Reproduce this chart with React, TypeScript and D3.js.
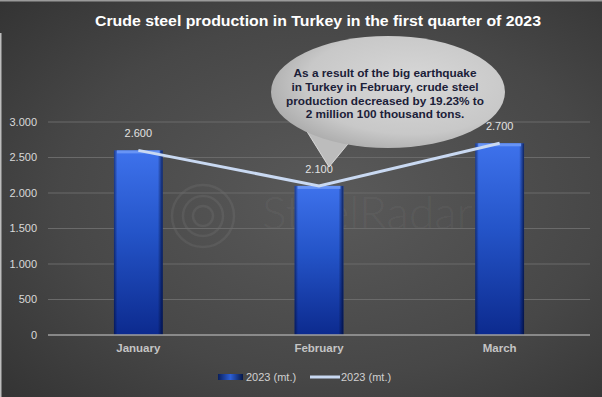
import * as d3 from 'd3';

const months = ['January', 'February', 'March'];
const production = [2600, 2100, 2700];
const yTicks = [0, 500, 1000, 1500, 2000, 2500, 3000];
const legendLabels = ['2023 (mt.)', '2023 (mt.)'];
const title = 'Crude steel production in Turkey in the first quarter of 2023';
const noteLines = [
  'As a result of the big earthquake',
  'in Turkey in February, crude steel',
  'production decreased by 19.23% to',
  '2 million 100 thousand tons.',
];

const W = 602;
const H = 397;
const plot = { left: 48, right: 590, top: 122, bottom: 335 };

const fmt = d3
  .formatLocale({ decimal: ',', thousands: '.', grouping: [3], currency: ['', ''] })
  .format(',');

export default function App() {
  const x = d3.scaleBand<string>().domain(months).range([plot.left, plot.right]).paddingInner(0.73).paddingOuter(0.365);
  const y = d3.scaleLinear().domain([0, 3000]).range([plot.bottom, plot.top]);
  const cx = (m: string) => (x(m) ?? 0) + x.bandwidth() / 2;

  const line = d3
    .line<number>()
    .x((_, i) => cx(months[i]))
    .y((d) => y(d));

  const font = 'Liberation Sans, Arial, sans-serif';

  return (
    <svg width={W} height={H} style={{ position: 'absolute', left: 0, top: 0, display: 'block' }} fontFamily={font}>
      <defs>
        <radialGradient id="bg" cx="0.55" cy="0.5" r="0.75">
          <stop offset="0" stopColor="#5a5a5a" />
          <stop offset="0.6" stopColor="#474747" />
          <stop offset="1" stopColor="#333333" />
        </radialGradient>
        <linearGradient id="barV" x1="0" x2="0" y1="0" y2="1">
          <stop offset="0" stopColor="#3e72ec" />
          <stop offset="0.45" stopColor="#2454c8" />
          <stop offset="1" stopColor="#0c2a8e" />
        </linearGradient>
        <linearGradient id="barH" x1="0" x2="1" y1="0" y2="0">
          <stop offset="0" stopColor="#000a30" stopOpacity="0.55" />
          <stop offset="0.07" stopColor="#000a30" stopOpacity="0" />
          <stop offset="0.9" stopColor="#000a30" stopOpacity="0" />
          <stop offset="1" stopColor="#000a30" stopOpacity="0.75" />
        </linearGradient>
        <linearGradient id="legBar" x1="0" x2="1" y1="0" y2="0">
          <stop offset="0" stopColor="#0a1f5c" />
          <stop offset="0.5" stopColor="#2c5fd6" />
          <stop offset="1" stopColor="#071847" />
        </linearGradient>
        <radialGradient id="bubble" cx="0.6" cy="0.42" r="0.65">
          <stop offset="0" stopColor="#d8d8d8" />
          <stop offset="0.7" stopColor="#c8c8c8" />
          <stop offset="1" stopColor="#aaaaaa" />
        </radialGradient>
      </defs>

      <rect x={0} y={0} width={W} height={H} fill="url(#bg)" />
      <rect x={0} y={0} width={W} height={1.5} fill="#9a9a9a" />
      <rect x={0} y={33} width={1.5} height={H - 33} fill="#bdbdbd" />

      <text x={318} y={26} textAnchor="middle" fill="#ffffff" fontWeight="bold" fontSize={15.5} textLength={446} lengthAdjust="spacingAndGlyphs">
        {title}
      </text>

      {/* watermark */}
      <g fill="none" stroke="#ffffff" strokeOpacity={0.06} strokeWidth={2.5}>
        {[10, 20, 31].map((r) => (
          <circle key={r} cx={203} cy={216} r={r} />
        ))}
      </g>
      <text x={262} y={229} fill="#ffffff" fillOpacity={0.055} fontSize={46} fontFamily="Lato, sans-serif" fontWeight={300}>
        SteelRadar
      </text>

      {/* gridlines + y ticks */}
      {yTicks.map((t) => (
        <g key={t}>
          {t > 0 && <line x1={plot.left} x2={plot.right} y1={y(t)} y2={y(t)} stroke="#6a6a6a" strokeWidth={1} />}
          <text x={37} y={y(t)} dy="0.35em" textAnchor="end" fill="#d9d9d9" fontSize={11}>
            {fmt(t)}
          </text>
        </g>
      ))}

      {/* bars */}
      {production.map((v, i) => {
        const bx = x(months[i]) ?? 0;
        return (
          <g key={months[i]}>
            <rect x={bx} y={y(v)} width={x.bandwidth()} height={plot.bottom - y(v)} fill="url(#barV)" />
            <rect x={bx} y={y(v)} width={x.bandwidth()} height={plot.bottom - y(v)} fill="url(#barH)" />
            <rect x={bx + 3} y={y(v)} width={x.bandwidth() - 6} height={3} fill="#6894f5" />
          </g>
        );
      })}

      <line x1={plot.left} x2={plot.right} y1={plot.bottom} y2={plot.bottom} stroke="#a0a0a0" strokeWidth={1.5} />

      {/* line series */}
      <path d={line(production) ?? ''} fill="none" stroke="#c9d9f2" strokeWidth={3} />

      {/* data labels */}
      {production.map((v, i) => (
        <text key={i} x={cx(months[i])} y={y(v) - 13} textAnchor="middle" fill="#e2e2e2" fontSize={11}>
          {fmt(v)}
        </text>
      ))}

      {/* category labels */}
      {months.map((m) => (
        <text key={m} x={cx(m)} y={352} textAnchor="middle" fill="#c4c4c4" fontSize={11.5} fontWeight="bold">
          {m}
        </text>
      ))}

      {/* speech bubble */}
      <g>
        <path d="M306,130 L329,167 L352,139 Z" fill="#bcbcbc" stroke="#e8e8e8" strokeWidth={0.8} />
        <ellipse cx={388} cy={92} rx={117} ry={56} fill="url(#bubble)" />
        {noteLines.map((l, i) => (
          <text key={i} x={385} y={77 + i * 13.8} textAnchor="middle" fill="#1b2038" fontSize={11.8} fontWeight="bold">
            {l}
          </text>
        ))}
      </g>

      {/* legend */}
      <rect x={218} y={374} width={25} height={6} fill="url(#legBar)" />
      <text x={246} y={381} fill="#d0d0d0" fontSize={11}>
        {legendLabels[0]}
      </text>
      <line x1={310} x2={340} y1={377} y2={377} stroke="#c9d9f2" strokeWidth={3} />
      <text x={341} y={381} fill="#d0d0d0" fontSize={11}>
        {legendLabels[1]}
      </text>
    </svg>
  );
}
